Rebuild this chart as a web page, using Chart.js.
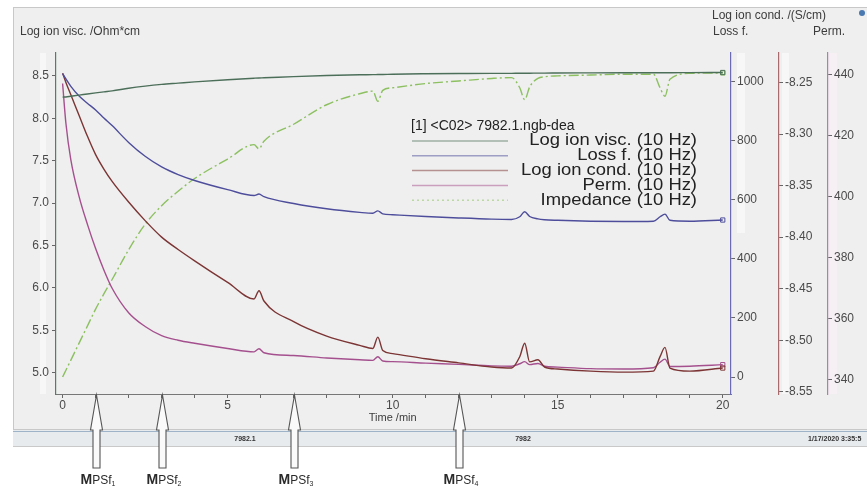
<!DOCTYPE html>
<html>
<head>
<meta charset="utf-8">
<script src="https://cdn.jsdelivr.net/npm/chart.js@4.4.1/dist/chart.umd.min.js"></script>
<style>
  html, body { margin: 0; padding: 0; background: #fff; }
  #wrap { position: relative; width: 867px; height: 489px; }
</style>
</head>
<body>
<div id="wrap"><canvas id="dea" width="867" height="489"></canvas></div>
<script>
// time axis (min) shared by all curves
const minutes = [0, 0.1, 0.25, 0.5, 0.75, 1, 1.25, 1.5, 2, 2.5, 3, 3.5, 4, 5, 5.8, 5.95, 6.1, 7, 8, 9,
  9.4, 9.55, 9.7, 10, 11, 12, 13, 13.6, 13.85, 14.0, 14.15, 14.4, 14.6, 15, 16, 17, 17.9, 18.1, 18.25, 18.4, 19, 20];

const logIonVisc = [8.25, 8.252, 8.26, 8.273, 8.287, 8.30, 8.312, 8.323, 8.355, 8.38, 8.40, 8.415, 8.43, 8.455, 8.473,
  8.476, 8.478, 8.492, 8.505, 8.513, 8.515, 8.516, 8.517, 8.52, 8.525, 8.528, 8.53, 8.53, 8.532, 8.532,
  8.532, 8.533, 8.533, 8.535, 8.536, 8.537, 8.538, 8.538, 8.538, 8.538, 8.539, 8.54];

const lossFactor = [1028, 1010, 985, 952, 928, 905, 878, 852, 795, 748, 712, 686, 666, 635, 615,
  620, 611, 588, 570, 558, 555, 563, 553, 550, 544, 539, 535, 534, 543, 560,
  544, 536, 533, 531, 528, 527, 528, 543, 552, 531, 528, 532];

const logIonCond = [-8.241, -8.25, -8.262, -8.282, -8.302, -8.32, -8.334, -8.346, -8.366, -8.384, -8.40, -8.412, -8.423, -8.444, -8.46,
  -8.452, -8.462, -8.482, -8.496, -8.505, -8.508, -8.497, -8.510, -8.513, -8.518, -8.522, -8.526, -8.527, -8.516, -8.503,
  -8.521, -8.519, -8.526, -8.528, -8.530, -8.531, -8.530, -8.516, -8.507, -8.527, -8.530, -8.527];

const permittivity = [437, 424, 412, 400, 391, 383, 376, 370, 362, 357.5, 354.5, 353, 352, 350.3, 349.2,
  350.2, 348.9, 348, 347.2, 346.6, 346.4, 347.6, 346.2, 346, 345.5, 345.1, 344.6, 344.5, 345.3, 346,
  345, 345.4, 344.5, 344.2, 343.7, 343.6, 344, 345.8, 346.8, 344.4, 344.5, 345];

const impedance = [4.95, 5.03, 5.15, 5.35, 5.55, 5.75, 5.93, 6.1, 6.45, 6.75, 6.97, 7.14, 7.29, 7.52, 7.69,
  7.64, 7.73, 7.93, 8.16, 8.29, 8.32, 8.2, 8.33, 8.36, 8.41, 8.44, 8.47, 8.48, 8.36, 8.22,
  8.37, 8.47, 8.49, 8.5, 8.51, 8.52, 8.52, 8.36, 8.26, 8.46, 8.53, 8.535];

const seriesNames = ['Log ion visc. (10 Hz)', 'Loss f. (10 Hz)', 'Log ion cond. (10 Hz)', 'Perm. (10 Hz)', 'Impedance (10 Hz)'];
const legendTitle = '[1] <C02> 7982.1.ngb-dea';

// MPSf markers under the time axis
const mpsfTimes = [1, 3, 7, 12];
const mpsfIndex = ['1', '2', '3', '4'];

const statusTexts = ['7982.1', '7982', '1/17/2020 3:35:5'];

const FONT = "'Liberation Sans', Arial, sans-serif";
Chart.defaults.font.family = FONT;
Chart.defaults.font.size = 12;
Chart.defaults.color = '#4a4a4a';

function pts(values) {
  return minutes.map((t, i) => ({ x: t, y: values[i] }));
}

function lastPoint(ctx) {
  return ctx.dataIndex === minutes.length - 1 ? 3 : 0;
}

function fixWidth(w) {
  return function(scale) { scale.width = w; };
}

const deaDecor = {
  id: 'deaDecor',
  beforeDraw(chart) {
    const ctx = chart.ctx;
    const a = chart.chartArea;
    ctx.save();
    ctx.fillStyle = '#fff';
    ctx.fillRect(0, 0, chart.width, chart.height);
    // window panel
    ctx.fillStyle = '#efefef';
    ctx.fillRect(13, 7, chart.width - 13, 423);
    ctx.strokeStyle = '#c8c8c8';
    ctx.lineWidth = 1;
    ctx.strokeRect(13.5, 7.5, chart.width, 422);
    // status strip
    ctx.fillStyle = '#e8ebee';
    ctx.fillRect(13, 430, chart.width - 13, 16);
    ctx.strokeStyle = '#9fb3c8';
    ctx.beginPath(); ctx.moveTo(13, 431.5); ctx.lineTo(chart.width, 431.5); ctx.stroke();
    ctx.strokeStyle = '#c9c9c9';
    ctx.beginPath(); ctx.moveTo(13, 446.5); ctx.lineTo(chart.width, 446.5); ctx.stroke();
    ctx.fillStyle = '#333';
    ctx.font = 'bold 7px ' + FONT;
    ctx.textBaseline = 'middle';
    ctx.textAlign = 'center';
    ctx.fillText(statusTexts[0], 245, 439);
    ctx.fillText(statusTexts[1], 523, 439);
    ctx.textAlign = 'left';
    ctx.fillText(statusTexts[2], 808, 439);
    // pale range stripes beside the axes
    ctx.fillStyle = 'rgba(255,255,255,0.5)';
    ctx.fillRect(40, a.top, 6, a.bottom - a.top);
    ctx.fillRect(737, a.top, 8, 180);
    ctx.fillRect(782, a.top, 7, a.bottom - a.top);
    ctx.fillStyle = 'rgba(250,238,246,0.6)';
    ctx.fillRect(830, a.top, 7, a.bottom - a.top);
    ctx.restore();
  },
  afterDraw(chart) {
    const ctx = chart.ctx;
    const xs = chart.scales.x;
    ctx.save();
    // axis titles
    ctx.fillStyle = '#3c3c3c';
    ctx.font = '12px ' + FONT;
    ctx.textBaseline = 'middle';
    ctx.textAlign = 'left';
    ctx.fillText('Log ion visc. /Ohm*cm', 20, 32);
    ctx.fillText('Loss f.', 713, 32);
    ctx.fillText('Log ion cond. /(S/cm)', 712, 16);
    ctx.fillText('Perm.', 813, 32);
    ctx.font = '11px ' + FONT;
    ctx.textAlign = 'center';
    ctx.fillText('Time /min', xs.getPixelForValue(10), 418);

    // legend block
    ctx.textAlign = 'left';
    ctx.font = '14px ' + FONT;
    ctx.fillStyle = '#222';
    ctx.fillText(legendTitle, 411, 126);
    chart.data.datasets.forEach((ds, i) => {
      const y = 141 + i * 14.8;
      ctx.save();
      ctx.globalAlpha = 0.5;
      ctx.strokeStyle = ds.borderColor;
      ctx.lineWidth = 1.5;
      ctx.setLineDash(ds.borderDash ? [2, 3] : []);
      ctx.beginPath(); ctx.moveTo(412, y); ctx.lineTo(508, y); ctx.stroke();
      ctx.restore();
      ctx.save();
      ctx.translate(697, y);
      ctx.scale(1.15, 1);
      ctx.font = '16px ' + FONT;
      ctx.fillStyle = '#222';
      ctx.textAlign = 'right';
      ctx.fillText(ds.label, 0, 0);
      ctx.restore();
    });

    // MPSf arrows
    mpsfTimes.forEach((t, i) => {
      const x = Math.round(xs.getPixelForValue(t)) + 0.5;
      const tip = 395, head = 430, bottom = 468;
      ctx.beginPath();
      ctx.moveTo(x, tip);
      ctx.lineTo(x + 6, head);
      ctx.lineTo(x + 3.5, head);
      ctx.lineTo(x + 3.5, bottom);
      ctx.lineTo(x - 3.5, bottom);
      ctx.lineTo(x - 3.5, head);
      ctx.lineTo(x - 6, head);
      ctx.closePath();
      ctx.fillStyle = '#fafafa';
      ctx.fill();
      ctx.strokeStyle = '#555';
      ctx.lineWidth = 1.1;
      ctx.stroke();
      // label
      ctx.fillStyle = '#2a2a2a';
      ctx.textBaseline = 'alphabetic';
      ctx.textAlign = 'left';
      ctx.font = 'bold 14px ' + FONT;
      const wM = ctx.measureText('M').width;
      ctx.font = '12px ' + FONT;
      const wP = ctx.measureText('PSf').width;
      const total = wM + wP + 5;
      const lx = x - total / 2 + 2;
      const by = 484;
      ctx.font = 'bold 14px ' + FONT;
      ctx.fillText('M', lx, by);
      ctx.font = '12px ' + FONT;
      ctx.fillText('PSf', lx + wM, by);
      ctx.font = '7px ' + FONT;
      ctx.fillText(mpsfIndex[i], lx + wM + wP, by + 2);
    });

    // small status dot top right
    ctx.fillStyle = '#4a78b0';
    ctx.beginPath(); ctx.arc(862, 13, 3, 0, Math.PI * 2); ctx.fill();
    ctx.restore();
  }
};

const colVisc = '#4c6f5a';
const colLoss = '#4d4d9c';
const colCond = '#7c3434';
const colPerm = '#a5508e';
const colImp = '#8cc060';

new Chart(document.getElementById('dea'), {
  type: 'line',
  data: {
    datasets: [
      { label: seriesNames[0], data: pts(logIonVisc), yAxisID: 'yVisc', borderColor: colVisc },
      { label: seriesNames[1], data: pts(lossFactor), yAxisID: 'yLoss', borderColor: colLoss },
      { label: seriesNames[2], data: pts(logIonCond), yAxisID: 'yCond', borderColor: colCond },
      { label: seriesNames[3], data: pts(permittivity), yAxisID: 'yPerm', borderColor: colPerm },
      { label: seriesNames[4], data: pts(impedance), yAxisID: 'yImp', borderColor: colImp, borderDash: [10, 3, 2, 3] }
    ].map(ds => Object.assign({
      borderWidth: 1.4,
      cubicInterpolationMode: 'monotone',
      pointRadius: lastPoint,
      pointStyle: 'rect',
      pointBackgroundColor: 'rgba(0,0,0,0)',
      pointBorderColor: ds.borderColor,
      pointBorderWidth: 1,
      fill: false
    }, ds))
  },
  options: {
    responsive: false,
    animation: false,
    devicePixelRatio: 1,
    layout: { padding: { left: 13, right: 0, top: 53, bottom: 55 } },
    plugins: { legend: { display: false }, tooltip: { enabled: false } },
    scales: {
      x: {
        type: 'linear', position: 'bottom', min: -0.2, max: 20.25,
        border: { color: '#777' },
        grid: { drawOnChartArea: false, tickLength: 4, color: '#666' },
        ticks: {
          stepSize: 1, includeBounds: false, autoSkip: false, maxRotation: 0, padding: 0,
          callback: v => (v % 5 === 0 ? String(v) : '')
        },
        afterFit(scale) { scale.height = 40; }
      },
      yVisc: {
        position: 'left', min: 4.75, max: 8.77,
        border: { color: '#4f8060', width: 1.2 },
        grid: { drawOnChartArea: false, tickLength: 4, color: '#666' },
        ticks: { stepSize: 0.5, includeBounds: false, padding: 3, callback: v => v.toFixed(1) },
        afterFit: fixWidth(43)
      },
      yLoss: {
        position: 'right', weight: 1, min: -57.6, max: 1098,
        border: { color: '#6a6ab8', width: 1.2 },
        grid: { drawOnChartArea: false, tickLength: 4, color: '#666' },
        ticks: { stepSize: 200, includeBounds: false, padding: 2, callback: v => String(v) },
        afterFit: fixWidth(48)
      },
      yCond: {
        position: 'right', weight: 2, min: -8.5522, max: -8.2214,
        border: { color: '#a86a6a', width: 1.2 },
        grid: { drawOnChartArea: false, tickLength: 4, color: '#666' },
        ticks: { stepSize: 0.05, includeBounds: false, padding: 2, callback: v => v.toFixed(2) },
        afterFit: fixWidth(49)
      },
      yPerm: {
        position: 'right', weight: 3, min: 335.4, max: 447,
        border: { color: '#b27ab8', width: 1.2 },
        grid: { drawOnChartArea: false, tickLength: 4, color: '#666' },
        ticks: { stepSize: 20, includeBounds: false, padding: 2 },
        afterFit: fixWidth(39)
      },
      yImp: { display: false, min: 4.75, max: 8.77 }
    }
  },
  plugins: [deaDecor]
});
</script>
</body>
</html>
